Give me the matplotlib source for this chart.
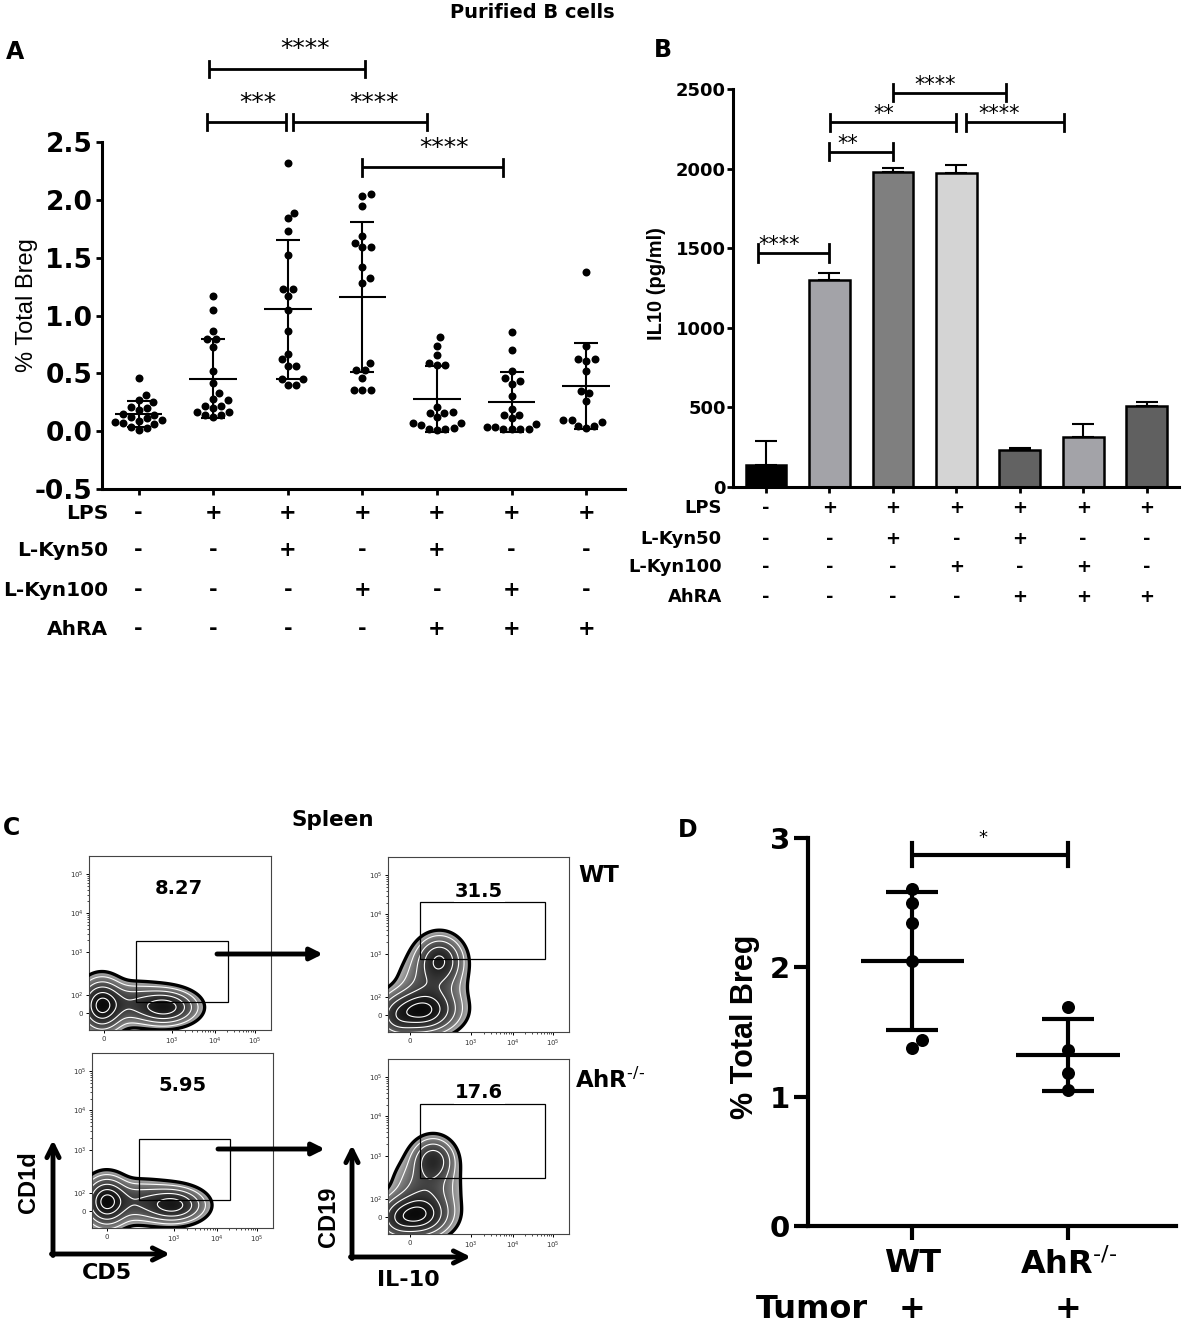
import numpy as np
import matplotlib
matplotlib.use('Agg')
import matplotlib.pyplot as plt
from matplotlib import transforms
from matplotlib.patches import Rectangle

# ---------------- data ----------------
# panel A: % total Breg per condition (purified B cells)
breg_g1 = [0.46, 0.31, 0.27, 0.25, 0.21, 0.20, 0.18, 0.15, 0.14, 0.12, 0.11, 0.10, 0.09, 0.08, 0.07, 0.06, 0.04, 0.03, 0.01]
breg_g2 = [1.17, 1.05, 0.87, 0.80, 0.80, 0.73, 0.52, 0.42, 0.33, 0.28, 0.27, 0.22, 0.22, 0.20, 0.17, 0.17, 0.14, 0.14, 0.12]
breg_g3 = [2.32, 1.89, 1.84, 1.73, 1.52, 1.23, 1.23, 1.17, 1.05, 0.87, 0.67, 0.62, 0.565, 0.565, 0.45, 0.45, 0.40, 0.40]
breg_g4 = [2.05, 2.03, 1.95, 1.69, 1.63, 1.59, 1.59, 1.42, 1.32, 1.28, 0.59, 0.53, 0.53, 0.46, 0.355, 0.355, 0.355]
breg_g5 = [0.81, 0.74, 0.66, 0.59, 0.57, 0.57, 0.21, 0.17, 0.155, 0.155, 0.12, 0.07, 0.07, 0.05, 0.03, 0.02, 0.02, 0.01]
breg_g6 = [0.86, 0.70, 0.52, 0.46, 0.43, 0.41, 0.30, 0.195, 0.14, 0.14, 0.11, 0.06, 0.04, 0.04, 0.02, 0.015, 0.015, 0.015]
breg_g7 = [1.38, 0.74, 0.62, 0.62, 0.605, 0.52, 0.35, 0.33, 0.26, 0.095, 0.095, 0.08, 0.046, 0.046, 0.026]
breg_groups = [breg_g1, breg_g2, breg_g3, breg_g4, breg_g5, breg_g6, breg_g7]

# treatment table (same for A and B)
lps = ['-', '+', '+', '+', '+', '+', '+']
kyn50 = ['-', '-', '+', '-', '+', '-', '-']
kyn100 = ['-', '-', '-', '+', '-', '+', '-']
ahra = ['-', '-', '-', '-', '+', '+', '+']
row_names = ['LPS', 'L-Kyn50', 'L-Kyn100', 'AhRA']
rows = [lps, kyn50, kyn100, ahra]

# panel A significance: (from, to, height, stars)
sigA_from = [0.94, 0.92, 2.07, 2.99]
sigA_to = [3.03, 1.98, 3.87, 4.88]
sigA_y = [3.13, 2.67, 2.67, 2.28]
sigA_lab = ['****', '***', '****', '****']
sigA_lx = [2.23, 1.60, 3.16, 4.10]

# panel B: IL10 (pg/ml)
il10_mean = [136, 1301, 1981, 1975, 230, 312, 510]
il10_err = [151, 42, 21, 48, 15, 85, 23]
il10_colors = ['#000000', '#a3a3a8', '#7f7f7f', '#d4d4d4', '#626262', '#a3a3a8', '#606060']
sigB_from = [2.0, 1.01, 3.15, 1.0, -0.12]
sigB_to = [3.79, 3.0, 4.70, 2.0, 0.99]
sigB_y = [2477, 2291, 2291, 2107, 1469]
sigB_lab = ['****', '**', '****', '**', '****']
sigB_lx = [2.67, 1.86, 3.68, 1.29, 0.20]

# panel D: % total Breg in spleen of tumour-bearing mice
d_groups = ['WT', r'AhR$^{\text{-/-}}$']
breg_wt = [2.605, 2.50, 2.34, 2.05, 1.44, 1.375]
breg_ko = [1.69, 1.357, 1.186, 1.052]

# panel C: gate frequencies and density populations (x, y, sx, sy, weight) in plot units
gate_freq = ['8.27', '31.5', '5.95', '17.6']
cd5_wt_pops = [(0.07, 0.14, 0.06, 0.075, 1.0), (0.42, 0.13, 0.085, 0.05, 0.8), (0.24, 0.15, 0.12, 0.06, 0.35)]
il10_wt_pops = [(0.18, 0.12, 0.10, 0.065, 1.0), (0.285, 0.41, 0.065, 0.07, 0.65),
                (0.24, 0.26, 0.09, 0.10, 0.3), (0.05, 0.08, 0.06, 0.06, 0.3)]
cd5_ko_pops = [(0.08, 0.15, 0.06, 0.07, 1.0), (0.45, 0.13, 0.085, 0.05, 0.75), (0.26, 0.15, 0.12, 0.06, 0.35)]
il10_ko_pops = [(0.16, 0.11, 0.09, 0.065, 1.0), (0.25, 0.42, 0.06, 0.065, 0.55),
                (0.21, 0.26, 0.09, 0.10, 0.3), (0.05, 0.08, 0.06, 0.06, 0.3)]
flow_ytick_pos = [0.095, 0.20, 0.447, 0.672, 0.895]
flow_ytick_lab = ['0', '$10^2$', '$10^3$', '$10^4$', '$10^5$']
cd5_xtick_pos = [0.082, 0.454, 0.69, 0.91]
il10_xtick_pos = [0.12, 0.458, 0.69, 0.911]
flow_xtick_lab = ['0', '$10^3$', '$10^4$', '$10^5$']

# ---------------- figure ----------------
W, H = 1182, 1343
fig = plt.figure(figsize=(W / 100, H / 100), dpi=100)
BOLD = dict(fontweight='bold')


def px_axes(l, t, r, b):
    return fig.add_axes([l / W, 1 - b / H, (r - l) / W, (b - t) / H])


def swarm(vals, ppu_x, ppu_y, d):
    vals = np.asarray(vals, float)
    off = np.zeros(len(vals))
    px_l, py_l = [], []
    for i in np.argsort(vals):
        y = vals[i] * ppu_y
        cands = [0.0]
        for px, py in zip(px_l, py_l):
            dy = abs(y - py)
            if dy < d:
                dx = np.sqrt(d * d - dy * dy)
                cands += [px + dx, px - dx]
        cands.sort(key=abs)
        for c in cands:
            if all((c - px) ** 2 + (y - py) ** 2 >= d * d - 1e-6 for px, py in zip(px_l, py_l)):
                break
        px_l.append(c)
        py_l.append(y)
        off[i] = c / ppu_x
    return off


def sig_bar(ax, x1, x2, y, h, lab, lx, ly, fs, lw):
    ax.plot([x1, x2], [y, y], color='black', lw=lw, clip_on=False, solid_capstyle='butt')
    for x in (x1, x2):
        ax.plot([x, x], [y - h, y + h], color='black', lw=lw, clip_on=False)
    ax.text(lx, ly, lab, ha='center', va='center', fontsize=fs, clip_on=False)


# ---------- panel A ----------
axA = px_axes(102, 142, 625, 489)
for i, vals in enumerate(breg_groups):
    off = swarm(vals, 74.6, 115.6, 8.5)
    axA.scatter(i + off, vals, s=33, color='black', zorder=2, linewidths=0)
    m, sd = np.mean(vals), np.std(vals, ddof=1)
    axA.errorbar(i, m, yerr=sd, fmt='none', ecolor='black', elinewidth=1.5, capsize=8.5, capthick=1.5, zorder=3)
    axA.hlines(m, i - 0.32, i + 0.32, color='black', lw=1.5, zorder=3)
axA.set_xlim(-0.49, 6.52)
axA.set_ylim(-0.5, 2.5)
axA.set_yticks(np.arange(-0.5, 2.51, 0.5))
axA.set_yticklabels(['-0.5', '0.0', '0.5', '1.0', '1.5', '2.0', '2.5'], fontsize=19, fontweight='bold')
axA.set_xticks(range(7))
axA.set_xticklabels([])
axA.tick_params(length=4, width=2, pad=3)
for s in ('top', 'right'):
    axA.spines[s].set_visible(False)
for s in ('left', 'bottom'):
    axA.spines[s].set_linewidth(2.2)
for x1, x2, y, lab, lx in zip(sigA_from, sigA_to, sigA_y, sigA_lab, sigA_lx):
    sig_bar(axA, x1, x2, y, 0.07, lab, lx, y + 0.17, 18, 2)

trA = transforms.blended_transform_factory(axA.transData, fig.transFigure)
for name, row, y in zip(row_names, rows, [513, 550, 590, 629]):
    fig.text(108 / W, 1 - y / H, name, ha='right', va='center', fontsize=14.5, **BOLD)
    for i, sgn in enumerate(row):
        axA.text(i, 1 - y / H, sgn, transform=trA, ha='center', va='center', fontsize=15, **BOLD)

# ---------- panel B ----------
axB = px_axes(733, 89, 1179, 487)
xb = np.arange(len(il10_mean))
axB.bar(xb, il10_mean, width=0.64, color=il10_colors, edgecolor='black', linewidth=1.8, zorder=2)
axB.errorbar(xb, il10_mean, yerr=[np.zeros(len(xb)), il10_err], fmt='none', ecolor='black',
             elinewidth=1.5, capsize=7.7, capthick=1.5, zorder=1)
axB.set_xlim(-0.52, 6.51)
axB.set_ylim(0, 2500)
axB.set_yticks(range(0, 2501, 500))
axB.set_yticklabels([str(v) for v in range(0, 2501, 500)], fontsize=13, fontweight='bold')
axB.set_xticks(xb)
axB.set_xticklabels([])
axB.tick_params(length=4, width=2, pad=1)
for s in ('top', 'right'):
    axB.spines[s].set_visible(False)
for s in ('left', 'bottom'):
    axB.spines[s].set_linewidth(2.2)
for x1, x2, y, lab, lx in zip(sigB_from, sigB_to, sigB_y, sigB_lab, sigB_lx):
    sig_bar(axB, x1, x2, y, 55, lab, lx, y + 50, 15, 2)

trB = transforms.blended_transform_factory(axB.transData, fig.transFigure)
for name, row, y in zip(row_names, rows, [508, 539, 567, 597]):
    fig.text(722 / W, 1 - y / H, name, ha='right', va='center', fontsize=13, **BOLD)
    for i, sgn in enumerate(row):
        axB.text(i, 1 - y / H, sgn, transform=trB, ha='center', va='center', fontsize=13, **BOLD)

# ---------- panel D ----------
axD = px_axes(808, 838, 1176, 1226)
for i, vals in enumerate([breg_wt, breg_ko]):
    off = swarm(vals, 156, 129.3, 13)
    axD.scatter(i + off, vals, s=88, color='black', zorder=2, linewidths=0)
    m, sd = np.mean(vals), np.std(vals, ddof=1)
    axD.errorbar(i, m, yerr=sd, fmt='none', ecolor='black', elinewidth=3, capsize=18.7, capthick=3, zorder=3)
    axD.hlines(m, i - 0.333, i + 0.333, color='black', lw=3, zorder=3)
axD.set_xlim(-0.67, 1.69)
axD.set_ylim(0, 3)
axD.set_yticks([0, 1, 2, 3])
axD.set_yticklabels(['0', '1', '2', '3'], fontsize=21, fontweight='bold')
axD.set_xticks([0, 1])
axD.set_xticklabels(d_groups, fontsize=23, fontweight='bold')
axD.tick_params(axis='y', length=10, width=3, pad=3)
axD.tick_params(axis='x', length=10, width=3, pad=6)
for s in ('top', 'right'):
    axD.spines[s].set_visible(False)
for s in ('left', 'bottom'):
    axD.spines[s].set_linewidth(3)
sig_bar(axD, 0.0, 1.0, 2.87, 0.09, '*', 0.455, 3.0, 13, 3)
trD = transforms.blended_transform_factory(axD.transData, fig.transFigure)
fig.text(812 / W, 1 - 1310 / H, 'Tumor', ha='center', va='center', fontsize=23, **BOLD)
for i in range(2):
    axD.text(i, 1 - 1310 / H, '+', transform=trD, ha='center', va='center', fontsize=23, **BOLD)


# ---------- panel C ----------
def flow_plot(ax, pops, xticks, gate, label, label_xy):
    gx = np.linspace(-0.05, 1.0, 300)
    gy = np.linspace(-0.05, 1.0, 300)
    X, Y = np.meshgrid(gx, gy)
    Z = np.zeros_like(X)
    for cx, cy, sx, sy, w in pops:
        Z += w * np.exp(-((X - cx) ** 2 / (2 * sx ** 2) + (Y - cy) ** 2 / (2 * sy ** 2)))
    Z /= Z.max()
    lo = 0.03
    t = np.clip(np.log(np.maximum(Z, 1e-9) / lo) / -np.log(lo), 0, 1)
    shade = np.ma.masked_where(Z < lo, 0.72 - 0.68 * t)
    ax.imshow(shade, extent=(-0.05, 1.0, -0.05, 1.0), origin='lower', cmap='gray',
              vmin=0, vmax=1, aspect='auto', interpolation='bilinear', zorder=1)
    ax.contour(X, Y, Z, levels=[0.08, 0.18, 0.35, 0.6, 0.85], colors='white', linewidths=0.8, zorder=2)
    ax.contour(X, Y, Z, levels=[lo], colors='black', linewidths=2.4, zorder=3)
    x0, x1, y0, y1 = gate
    ax.add_patch(Rectangle((x0, y0), x1 - x0, y1 - y0, fill=False, lw=0.9, ec='black', zorder=4))
    ax.text(label_xy[0], label_xy[1], label, ha='center', va='center', fontsize=14, zorder=5,
            bbox=dict(facecolor='white', edgecolor='none', pad=1.0), **BOLD)
    ax.set_xlim(0, 1)
    ax.set_ylim(0, 1)
    ax.set_xticks(xticks)
    ax.set_xticklabels(flow_xtick_lab, fontsize=5, color='#333333')
    ax.set_yticks(flow_ytick_pos)
    ax.set_yticklabels(flow_ytick_lab, fontsize=5, color='#333333')
    minor_x, minor_y = [], []
    for pos, minor in ((xticks, minor_x), (flow_ytick_pos, minor_y)):
        for a, b in zip(pos[-3:-1], pos[-2:]):
            minor += [a + np.log10(k) * (b - a) for k in range(2, 10)]
    ax.set_xticks(minor_x, minor=True)
    ax.set_yticks(minor_y, minor=True)
    ax.tick_params(which='major', length=2.5, width=0.7, pad=1.5)
    ax.tick_params(which='minor', length=1.5, width=0.5)
    for s in ax.spines.values():
        s.set_linewidth(0.8)
        s.set_color('#444444')


c_tl = px_axes(89, 856, 271, 1030)
c_tr = px_axes(388, 857, 569, 1032)
c_bl = px_axes(92, 1053, 273, 1228)
c_br = px_axes(388, 1059, 569, 1234)
flow_plot(c_tl, cd5_wt_pops, cd5_xtick_pos, (0.257, 0.762, 0.161, 0.511), gate_freq[0], (0.496, 0.814))
flow_plot(c_tr, il10_wt_pops, il10_xtick_pos, (0.177, 0.865, 0.419, 0.743), gate_freq[1], (0.504, 0.804))
flow_plot(c_bl, cd5_ko_pops, cd5_xtick_pos, (0.258, 0.765, 0.158, 0.507), gate_freq[2], (0.50, 0.815))
flow_plot(c_br, il10_ko_pops, il10_xtick_pos, (0.177, 0.865, 0.32, 0.745), gate_freq[3], (0.504, 0.806))

# ---------- overlay: titles, labels, arrows ----------
ov = fig.add_axes([0, 0, 1, 1])
ov.set_xlim(0, W)
ov.set_ylim(H, 0)
ov.axis('off')
ov.text(532, 13, 'Purified B cells', ha='center', va='center', fontsize=14, **BOLD)
for lab, x, y in (('A', 15, 52), ('B', 663, 50), ('C', 12, 828), ('D', 688, 830)):
    ov.text(x, y, lab, ha='center', va='center', fontsize=17, **BOLD)
ov.text(27, 305, '% Total Breg', rotation=90, ha='center', va='center', fontsize=17, family='Liberation Sans')
ov.text(657, 284, 'IL10 (pg/ml)', rotation=90, ha='center', va='center', fontsize=14.5,
        family='Liberation Sans', **BOLD)
ov.text(745, 1027, '% Total Breg', rotation=90, ha='center', va='center', fontsize=22,
        family='Liberation Sans', **BOLD)
ov.text(333, 820, 'Spleen', ha='center', va='center', fontsize=15.5, **BOLD)
ov.text(578, 876, 'WT', ha='left', va='center', fontsize=16.5, **BOLD)
ov.text(575, 1080, r'AhR$^{\text{-/-}}$', ha='left', va='center', fontsize=16.5, **BOLD)
ov.text(29, 1182, 'CD1d', rotation=90, ha='center', va='center', fontsize=17, family='Liberation Sans', **BOLD)
ov.text(107, 1273, 'CD5', ha='center', va='center', fontsize=16, **BOLD)
ov.text(329, 1217, 'CD19', rotation=90, ha='center', va='center', fontsize=17, family='Liberation Sans', **BOLD)
ov.text(408, 1280, 'IL-10', ha='center', va='center', fontsize=16, **BOLD)

arrow_gate = dict(arrowstyle='-|>', lw=3.5, color='black', mutation_scale=18, shrinkA=0, shrinkB=0)
ov.annotate('', xy=(323, 954), xytext=(217, 954), arrowprops=arrow_gate)
ov.annotate('', xy=(325, 1149), xytext=(218, 1149), arrowprops=arrow_gate)
arrow_axis = dict(arrowstyle='->', lw=3.5, color='black', mutation_scale=22, shrinkA=0, shrinkB=0)
for cx, cy, top, right in ((53, 1254, 1140, 170), (352, 1257, 1145, 471)):
    ov.annotate('', xy=(cx, top), xytext=(cx, cy + 1.5), arrowprops=arrow_axis)
    ov.annotate('', xy=(right, cy), xytext=(cx - 1.5, cy), arrowprops=arrow_axis)

fig.savefig('out.png', dpi=100)
